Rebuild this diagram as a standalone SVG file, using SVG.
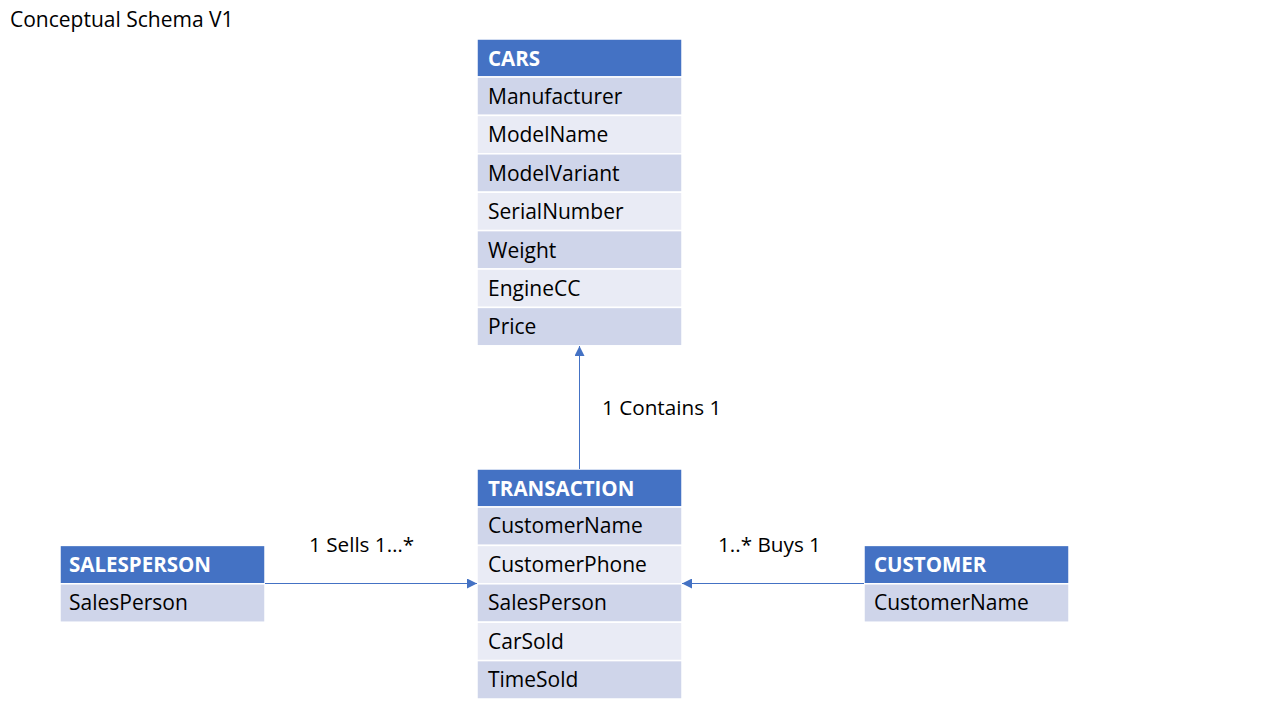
<svg xmlns="http://www.w3.org/2000/svg" width="1280" height="720" viewBox="0 0 1280 720">
<defs>
<style>
.hd{fill:#4472C4;stroke:#fff;stroke-width:1.5}
.r1{fill:#CFD5EA;stroke:#fff;stroke-width:1.5}
.r2{fill:#E9EBF5;stroke:#fff;stroke-width:1.5}
.ht{font-family:"Open Sans","Noto Sans",sans-serif;font-weight:bold;font-size:20.5px;fill:#fff}
.t{font-family:"Open Sans","Noto Sans",sans-serif;font-size:21px;fill:#000}
.lbl{font-family:"Open Sans","Noto Sans",sans-serif;font-size:20.7px;fill:#000}
.ln{stroke:#4472C4;stroke-width:1;fill:none}
</style>
<marker id="ah" viewBox="0 0 10 10" refX="10" refY="5" markerWidth="10" markerHeight="10" markerUnits="userSpaceOnUse" orient="auto">
<path d="M0,0 L10,5 L0,10 z" fill="#4472C4"/>
</marker>
</defs>
<rect width="1280" height="720" fill="#fff"/>
<text x="10" y="27" class="lbl" style="font-size:21px">Conceptual Schema V1</text>

<g id="cars">
<rect class="hd" x="477" y="39" width="205" height="38"/>
<text class="ht" x="488" y="65.5">CARS</text>
<rect class="r1" x="477" y="77" width="205" height="38.4"/>
<text class="t" x="488" y="104">Manufacturer</text>
<rect class="r2" x="477" y="115.4" width="205" height="38.4"/>
<text class="t" x="488" y="142">ModelName</text>
<rect class="r1" x="477" y="153.8" width="205" height="38.4"/>
<text class="t" x="488" y="181">ModelVariant</text>
<rect class="r2" x="477" y="192.2" width="205" height="38.4"/>
<text class="t" x="488" y="219">SerialNumber</text>
<rect class="r1" x="477" y="230.6" width="205" height="38.4"/>
<text class="t" x="488" y="258">Weight</text>
<rect class="r2" x="477" y="269" width="205" height="38.4"/>
<text class="t" x="488" y="296">EngineCC</text>
<rect class="r1" x="477" y="307.4" width="205" height="38.4"/>
<text class="t" x="488" y="334">Price</text>
</g>

<g id="transaction">
<rect class="hd" x="477" y="469" width="205" height="38"/>
<text class="ht" x="488" y="495.5">TRANSACTION</text>
<rect class="r1" x="477" y="507" width="205" height="38.4"/>
<text class="t" x="488" y="533">CustomerName</text>
<rect class="r2" x="477" y="545.4" width="205" height="38.4"/>
<text class="t" x="488" y="572">CustomerPhone</text>
<rect class="r1" x="477" y="583.8" width="205" height="38.4"/>
<text class="t" x="488" y="610">SalesPerson</text>
<rect class="r2" x="477" y="622.2" width="205" height="38.4"/>
<text class="t" x="488" y="649">CarSold</text>
<rect class="r1" x="477" y="660.6" width="205" height="38.4"/>
<text class="t" x="488" y="687">TimeSold</text>
</g>

<g id="salesperson">
<rect class="hd" x="60" y="545.4" width="205" height="38.4"/>
<text class="ht" x="69" y="572">SALESPERSON</text>
<rect class="r1" x="60" y="583.8" width="205" height="38.4"/>
<text class="t" x="69" y="610">SalesPerson</text>
</g>

<g id="customer">
<rect class="hd" x="864" y="545.4" width="205" height="38.4"/>
<text class="ht" x="874" y="572">CUSTOMER</text>
<rect class="r1" x="864" y="583.8" width="205" height="38.4"/>
<text class="t" x="874" y="610">CustomerName</text>
</g>

<g id="connectors">
<line class="ln" x1="579.5" y1="469" x2="579.5" y2="346" marker-end="url(#ah)"/>
<line class="ln" x1="265" y1="583.5" x2="477" y2="583.5" marker-end="url(#ah)"/>
<line class="ln" x1="864" y1="583.5" x2="682" y2="583.5" marker-end="url(#ah)"/>
<text class="lbl" x="602" y="415">1 Contains 1</text>
<text class="lbl" x="309" y="552">1 Sells 1…*</text>
<text class="lbl" x="718" y="552">1..* Buys 1</text>
</g>
</svg>
